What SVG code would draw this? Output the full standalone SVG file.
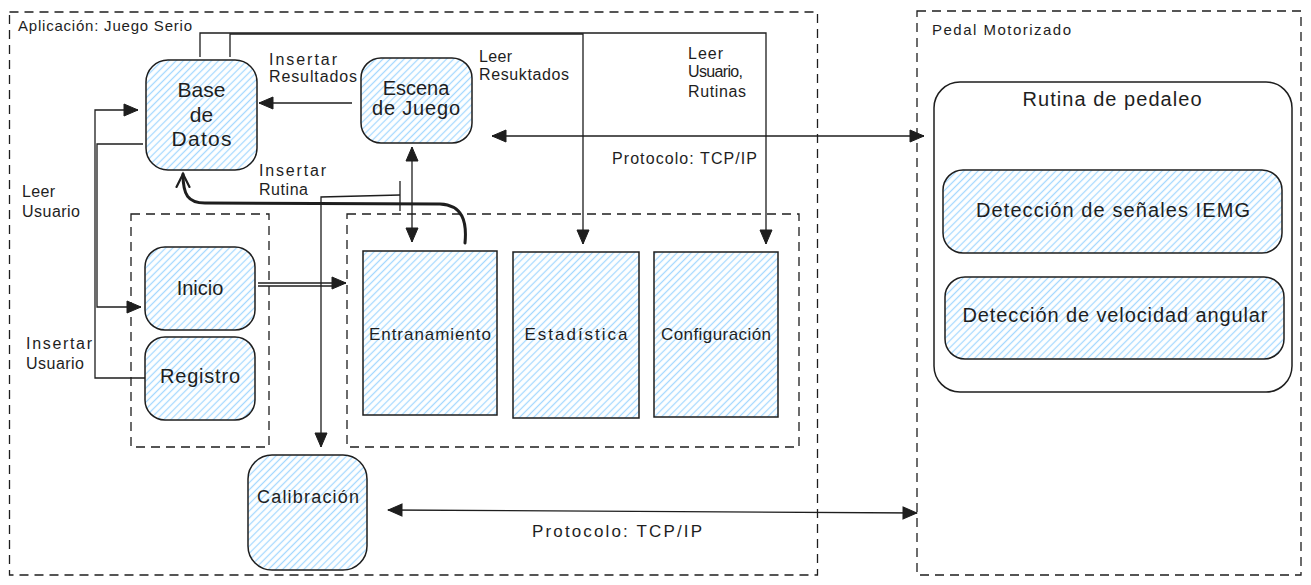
<svg xmlns="http://www.w3.org/2000/svg" width="1311" height="585" viewBox="0 0 1311 585">
<defs>
  <pattern id="hatch" patternUnits="userSpaceOnUse" width="5" height="10" patternTransform="rotate(45)">
    <line x1="2.5" y1="0" x2="2.5" y2="10" stroke="#a5d8ff" stroke-width="1.3"/>
  </pattern>
  <marker id="arr" markerUnits="userSpaceOnUse" markerWidth="16" markerHeight="14" refX="15" refY="7" orient="auto-start-reverse">
    <path d="M1,1 L15,7 L1,13 z" fill="#1e1e1e" stroke="#1e1e1e" stroke-width="1"/>
  </marker>
  <marker id="vee" markerUnits="userSpaceOnUse" markerWidth="18" markerHeight="16" refX="14" refY="8" orient="auto">
    <path d="M1,1.5 L14,8 L1,14.5" fill="none" stroke="#1e1e1e" stroke-width="2.2" stroke-linecap="round"/>
  </marker>
  <style>
    .dash { fill: none; stroke: #1e1e1e; stroke-width: 1.3; stroke-dasharray: 9 6; }
    .node { fill: url(#hatch); stroke: #1e1e1e; stroke-width: 1.5; }
    .plain { fill: none; stroke: #1e1e1e; stroke-width: 1.5; }
    .t { font-family: "Liberation Sans", Arial, sans-serif; fill: #1e1e1e; }
    .c { text-anchor: middle; }
    .lbl { font-size: 16px; }
    .ln { fill: none; stroke: #1e1e1e; stroke-width: 1.3; }
    .thick { fill: none; stroke: #1e1e1e; stroke-width: 3; stroke-linecap: round; }
  </style>
</defs>
<rect width="1311" height="585" fill="#ffffff"/>

<g id="app-container">
  <rect class="dash" x="9.5" y="12" width="808" height="563"/>
  <text class="t" x="18" y="31" font-size="15" textLength="174" lengthAdjust="spacing">Aplicación: Juego Serio</text>
</g>
<g id="pedal-container">
  <rect class="dash" x="917" y="11" width="384" height="564"/>
  <text class="t" x="932" y="35" font-size="15" textLength="139" lengthAdjust="spacing">Pedal Motorizado</text>
</g>
<g id="grupo-acceso">
  <rect class="dash" x="131" y="214" width="138" height="233"/>
</g>
<g id="grupo-menu">
  <rect class="dash" x="347" y="214" width="452" height="233"/>
</g>

<g id="base-datos">
  <rect class="node" x="146" y="60" width="111" height="110" rx="22"/>
  <text class="t c" x="201.5" y="97" font-size="21">Base</text>
  <text class="t c" x="201.5" y="122" font-size="21">de</text>
  <text class="t c" x="201.5" y="146" font-size="21" textLength="60" lengthAdjust="spacing">Datos</text>
</g>
<g id="escena-juego">
  <rect class="node" x="361" y="58" width="111" height="85" rx="20"/>
  <text class="t c" x="416" y="95" font-size="20">Escena</text>
  <text class="t c" x="416" y="115" font-size="20" textLength="88" lengthAdjust="spacing">de Juego</text>
</g>
<g id="inicio">
  <rect class="node" x="145" y="247" width="110" height="83" rx="20"/>
  <text class="t c" x="200" y="295" font-size="20">Inicio</text>
</g>
<g id="registro">
  <rect class="node" x="145" y="337" width="110" height="83" rx="20"/>
  <text class="t c" x="200" y="383" font-size="20" textLength="80" lengthAdjust="spacing">Registro</text>
</g>
<g id="entranamiento">
  <rect class="node" x="363" y="251" width="134" height="164"/>
  <text class="t c" x="430" y="340" font-size="17" textLength="122" lengthAdjust="spacing">Entranamiento</text>
</g>
<g id="estadistica">
  <rect class="node" x="513" y="252" width="126" height="166"/>
  <text class="t c" x="576" y="340" font-size="17" textLength="103" lengthAdjust="spacing">Estadística</text>
</g>
<g id="configuracion">
  <rect class="node" x="654" y="252" width="124" height="165"/>
  <text class="t c" x="716" y="340" font-size="17" textLength="110" lengthAdjust="spacing">Configuración</text>
</g>
<g id="calibracion">
  <rect class="node" x="248" y="455" width="119" height="115" rx="24"/>
  <text class="t c" x="308" y="503" font-size="18" textLength="102" lengthAdjust="spacing">Calibración</text>
</g>
<g id="rutina-pedaleo">
  <rect class="plain" x="934" y="82" width="358" height="310" rx="26"/>
  <text class="t c" x="1112" y="106" font-size="20" textLength="179" lengthAdjust="spacing">Rutina de pedaleo</text>
</g>
<g id="deteccion-iemg">
  <rect class="node" x="943" y="170" width="339" height="83" rx="20"/>
  <text class="t c" x="1113" y="217" font-size="20" textLength="274" lengthAdjust="spacing">Detección de señales IEMG</text>
</g>
<g id="deteccion-velocidad">
  <rect class="node" x="945" y="277" width="339" height="82" rx="20"/>
  <text class="t c" x="1115" y="322" font-size="20" textLength="305" lengthAdjust="spacing">Detección de velocidad angular</text>
</g>

<g id="connectors">
  <path class="ln" d="M200,57 V33 H766 V244" marker-end="url(#arr)"/>
  <path class="ln" d="M230,57 V34 H583 V244" marker-end="url(#arr)"/>
  <path class="ln" d="M352,103 H259" marker-end="url(#arr)"/>
  <path class="ln" d="M492,136 H924" marker-start="url(#arr)" marker-end="url(#arr)"/>
  <path class="ln" d="M412,147 V242" marker-start="url(#arr)" marker-end="url(#arr)"/>
  <path class="thick" d="M465,243 C467,222 463,205 440,204 L205,203 C188,203 183,195 183,174" marker-end="url(#vee)"/>
  <path class="ln" d="M400,181 V211"/>
  <path class="ln" d="M400,195 L321,197 V447" marker-end="url(#arr)"/>
  <path class="ln" d="M145,378 H95 V110 H138" marker-end="url(#arr)"/>
  <path class="ln" d="M143,144 H97 V307 H141" marker-end="url(#arr)"/>
  <path class="ln" d="M258,283 H346" marker-end="url(#arr)"/>
  <path class="ln" d="M258,286 H338"/>
  <path class="ln" d="M388,510 L917,513" marker-start="url(#arr)" marker-end="url(#arr)"/>
</g>

<g id="labels">
  <text class="t lbl" x="269" y="64.5" textLength="68" lengthAdjust="spacing">Insertar</text>
  <text class="t lbl" x="269" y="81.5" textLength="88" lengthAdjust="spacing">Resultados</text>
  <text class="t lbl" x="479" y="61.5" textLength="33" lengthAdjust="spacing">Leer</text>
  <text class="t lbl" x="479" y="79.5" textLength="90" lengthAdjust="spacing">Resuktados</text>
  <text class="t lbl" x="688" y="58.5" textLength="35" lengthAdjust="spacing">Leer</text>
  <text class="t lbl" x="688" y="76.5" textLength="55" lengthAdjust="spacing">Usuario,</text>
  <text class="t lbl" x="688" y="96.5" textLength="58" lengthAdjust="spacing">Rutinas</text>
  <text class="t lbl" x="612" y="163.5" textLength="145" lengthAdjust="spacing">Protocolo: TCP/IP</text>
  <text class="t lbl" x="259" y="175.5" textLength="67" lengthAdjust="spacing">Insertar</text>
  <text class="t lbl" x="259" y="194.5" textLength="49" lengthAdjust="spacing">Rutina</text>
  <text class="t lbl" x="22" y="196.5" textLength="33" lengthAdjust="spacing">Leer</text>
  <text class="t lbl" x="22" y="216.5" textLength="58" lengthAdjust="spacing">Usuario</text>
  <text class="t lbl" x="26" y="348.5" textLength="66" lengthAdjust="spacing">Insertar</text>
  <text class="t lbl" x="26" y="368.5" textLength="58" lengthAdjust="spacing">Usuario</text>
  <text class="t" x="532" y="537" font-size="17" textLength="170" lengthAdjust="spacing">Protocolo: TCP/IP</text>
</g>
</svg>
